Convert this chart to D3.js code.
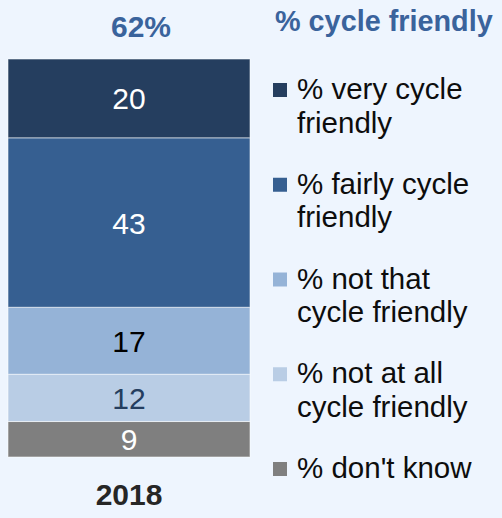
<!DOCTYPE html>
<html>
<head>
<meta charset="utf-8">
<script src="https://cdn.jsdelivr.net/npm/d3@7"></script>
<style>
  html, body { margin: 0; padding: 0; background: #EEF5FE; }
  svg { display: block; }
  text { font-family: "Liberation Sans", Arial, sans-serif; }
</style>
</head>
<body>
<script>
// ---- data ----
const categories = ["2018"];
const seriesNames = ["% don't know", "% not at all cycle friendly", "% not that cycle friendly", "% fairly cycle friendly", "% very cycle friendly"];
const seriesKeys = ["dontknow", "notatall", "notthat", "fairly", "very"];
const values2018 = [9, 12, 17, 43, 20];
const totalLabel = "62%";
const legendTitle = "% cycle friendly";
const legendLines = [
  ["% very cycle", "friendly"],
  ["% fairly cycle", "friendly"],
  ["% not that", "cycle friendly"],
  ["% not at all", "cycle friendly"],
  ["% don't know"]
];
const legendKeys = ["very", "fairly", "notthat", "notatall", "dontknow"];

const colors = {
  very: "#253E5F", fairly: "#365F91", notthat: "#95B3D7", notatall: "#B9CDE5", dontknow: "#7F7F7F"
};
const labelColors = {
  very: "#ffffff", fairly: "#ffffff", notthat: "#000000", notatall: "#253E5F", dontknow: "#ffffff"
};

const W = 502, H = 518;
const svg = d3.select("body").append("svg").attr("width", W).attr("height", H);

const row = { cat: categories[0] };
seriesKeys.forEach((k, i) => row[k] = values2018[i]);
const stacked = d3.stack().keys(seriesKeys)([row]);
const total = d3.sum(values2018);

const x = d3.scaleBand().domain(categories).range([8, 250]).paddingInner(0).paddingOuter(0);
const y = d3.scaleLinear().domain([0, total]).range([457, 59]);

const g = svg.append("g");
stacked.forEach(s => {
  const d = s[0];
  g.append("rect")
    .attr("x", x(row.cat))
    .attr("width", x.bandwidth())
    .attr("y", y(d[1]))
    .attr("height", y(d[0]) - y(d[1]))
    .attr("fill", colors[s.key])
    .attr("stroke", "rgba(255,255,255,0.55)")
    .attr("stroke-width", 1);
  const mid = (y(d[0]) + y(d[1])) / 2;
  g.append("text")
    .attr("x", x(row.cat) + x.bandwidth() / 2)
    .attr("y", mid + 11)
    .attr("text-anchor", "middle")
    .attr("font-size", 30)
    .attr("fill", labelColors[s.key])
    .text(d.data[s.key]);
});

// total label above bar
svg.append("text")
  .attr("x", x(row.cat) + x.bandwidth() / 2 + 12)
  .attr("y", 37)
  .attr("text-anchor", "middle")
  .attr("font-size", 30)
  .attr("font-weight", "bold")
  .attr("fill", "#3A639C")
  .text(totalLabel);

// category label
svg.append("text")
  .attr("x", x(row.cat) + x.bandwidth() / 2)
  .attr("y", 505)
  .attr("text-anchor", "middle")
  .attr("font-size", 30)
  .attr("font-weight", "bold")
  .attr("fill", "#262626")
  .text(row.cat);

// legend
svg.append("text")
  .attr("x", 275)
  .attr("y", 31)
  .attr("font-size", 28.8)
  .attr("font-weight", "bold")
  .attr("fill", "#3A639C")
  .text(legendTitle);

const ly = d3.scalePoint().domain(legendKeys).range([83, 462]);
legendKeys.forEach((k, i) => {
  const top = ly(k);
  svg.append("rect")
    .attr("x", 273).attr("y", top)
    .attr("width", 14).attr("height", 14)
    .attr("fill", colors[k]);
  const t = svg.append("text")
    .attr("x", 297)
    .attr("y", top + 16)
    .attr("font-size", 29.5)
    .attr("fill", "#0d0d0d");
  legendLines[i].forEach((ln, j) => {
    t.append("tspan").attr("x", 297).attr("dy", j === 0 ? 0 : 33.5).text(ln);
  });
});
</script>
</body>
</html>
